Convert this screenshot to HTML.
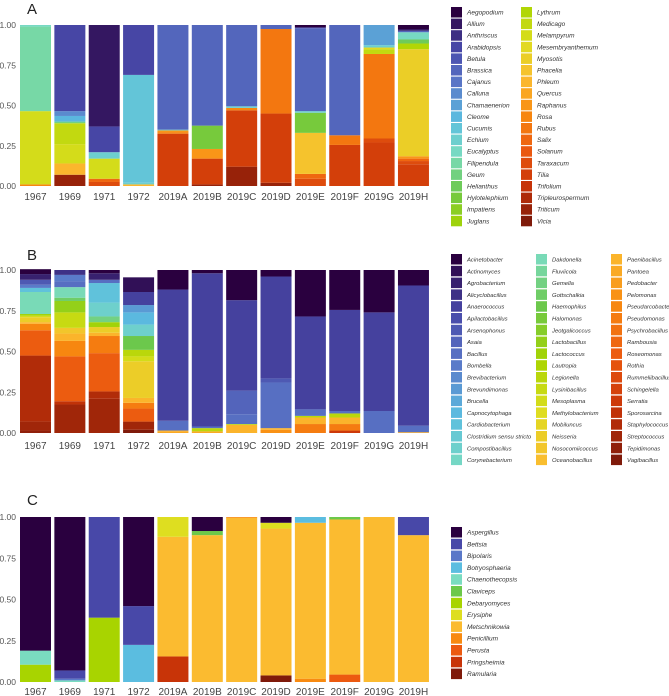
<!DOCTYPE html>
<html><head><meta charset="utf-8"><style>
body{margin:0;background:#fff;}
svg{display:block;font-family:"Liberation Sans",sans-serif;}
</style></head><body>
<svg id="fig" width="669" height="696" viewBox="0 0 669 696"></svg>
<script>
const years = ["1967","1969","1971","1972","2019A","2019B","2019C","2019D","2019E","2019F","2019G","2019H"];
const yTicks = [0,0.25,0.5,0.75,1];
const yTickLabels = ["0.00","0.25","0.50","0.75","1.00"];

const generaA = ["Aegopodium","Allium","Anthriscus","Arabidopsis","Betula","Brassica","Cajanus","Calluna","Chamaenerion","Cleome","Cucumis","Echium","Eucalyptus","Filipendula","Geum","Helianthus","Hylotelephium","Impatiens","Juglans","Lythrum","Medicago","Melampyrum","Mesembryanthemum","Myosotis","Phacelia","Phleum","Quercus","Raphanus","Rosa","Rubus","Salix","Solanum","Taraxacum","Tilia","Trifolium","Tripleurospermum","Triticum","Vicia"];
const generaB = ["Acinetobacter","Actinomyces","Agrobacterium","Alicyclobacillus","Anaerococcus","Apilactobacillus","Arsenophonus","Asaia","Bacillus","Bombella","Brevibacterium","Brevundimonas","Brucella","Capnocytophaga","Cardiobacterium","Clostridium sensu stricto","Compostibacillus","Corynebacterium","Dakdonella","Fluviicola","Gemella","Gottschalkia","Haemophilus","Halomonas","Jeotgalicoccus","Lactobacillus","Lactococcus","Lautropia","Legionella","Lysinibacillus","Mesoplasma","Methylobacterium","Mobiluncus","Neisseria","Nosocomiicoccus","Oceanobacillus","Paenibacillus","Pantoea","Pedobacter","Pelomonas","Pseudarcobacter","Pseudomonas","Psychrobacillus","Rambousia","Roseomonas","Rothia","Rummeliibacillus","Schingelella","Serratia","Sporosarcina","Staphylococcus","Streptococcus","Tepidimonas","Vagibacillus"];
const generaC = ["Aspergillus","Bettsia","Bipolaris","Botryosphaeria","Chaenothecopsis","Claviceps","Debaryomyces","Erysiphe","Metschnikowia","Penicillium","Perusta","Pringsheimia","Ramularia"];

const dataA = [
 [["Rosa",0.01],["Melampyrum",0.455],["Filipendula",0.525],["Eucalyptus",0.01]],
 [["Triticum",0.07],["Phleum",0.07],["Melampyrum",0.12],["Medicago",0.13],["Geum",0.01],["Cleome",0.035],["Calluna",0.03],["Arabidopsis",0.535]],
 [["Taraxacum",0.025],["Salix",0.02],["Melampyrum",0.125],["Echium",0.04],["Arabidopsis",0.16],["Allium",0.63]],
 [["Phleum",0.01],["Echium",0.01],["Cucumis",0.67],["Arabidopsis",0.31]],
 [["Tilia",0.325],["Rosa",0.01],["Raphanus",0.01],["Echium",0.005],["Brassica",0.65]],
 [["Triticum",0.01],["Tilia",0.16],["Raphanus",0.06],["Hylotelephium",0.145],["Brassica",0.625]],
 [["Triticum",0.12],["Tilia",0.35],["Rosa",0.015],["Echium",0.01],["Brassica",0.505]],
 [["Triticum",0.02],["Tilia",0.43],["Rubus",0.525],["Brassica",0.025]],
 [["Taraxacum",0.045],["Salix",0.03],["Phacelia",0.255],["Hylotelephium",0.125],["Echium",0.01],["Brassica",0.515],["Arabidopsis",0.005],["Aegopodium",0.015]],
 [["Tilia",0.255],["Rubus",0.06],["Brassica",0.685]],
 [["Tilia",0.27],["Taraxacum",0.025],["Rubus",0.525],["Medicago",0.03],["Mesembryanthemum",0.01],["Echium",0.015],["Chamaenerion",0.125]],
 [["Tilia",0.135],["Taraxacum",0.02],["Salix",0.015],["Raphanus",0.015],["Myosotis",0.665],["Lythrum",0.035],["Helianthus",0.025],["Eucalyptus",0.045],["Brassica",0.01],["Allium",0.01],["Aegopodium",0.025]]
];
const dataB = [
 [["Tepidimonas",0.015],["Streptococcus",0.055],["Staphylococcus",0.405],["Roseomonas",0.155],["Pseudarcobacter",0.04],["Paenibacillus",0.01],["Neisseria",0.03],["Mesoplasma",0.01],["Lactococcus",0.01],["Dakdonella",0.135],["Cardiobacterium",0.025],["Bombella",0.02],["Arsenophonus",0.03],["Agrobacterium",0.035],["Acinetobacter",0.03]],
 [["Streptococcus",0.175],["Sporosarcina",0.02],["Roseomonas",0.275],["Pseudarcobacter",0.095],["Paenibacillus",0.045],["Nosocomiicoccus",0.035],["Lysinibacillus",0.095],["Lactobacillus",0.07],["Gottschalkia",0.02],["Dakdonella",0.065],["Bacillus",0.035],["Bombella",0.04],["Alicyclobacillus",0.03]],
 [["Streptococcus",0.21],["Staphylococcus",0.045],["Roseomonas",0.235],["Pseudomonas",0.105],["Paenibacillus",0.02],["Neisseria",0.035],["Lactococcus",0.03],["Gemella",0.035],["Compostibacillus",0.085],["Cardiobacterium",0.12],["Bacillus",0.02],["Agrobacterium",0.04],["Acinetobacter",0.02]],
 [["Vagibacillus",0.02],["Streptococcus",0.05],["Roseomonas",0.08],["Pseudomonas",0.035],["Paenibacillus",0.03],["Neisseria",0.225],["Mesoplasma",0.03],["Legionella",0.04],["Haemophilus",0.085],["Compostibacillus",0.07],["Capnocytophaga",0.075],["Brevundimonas",0.045],["Anaerococcus",0.08],["Actinomyces",0.09]],
 [["Pantoea",0.01],["Paenibacillus",0.005],["Bacillus",0.06],["Anaerococcus",0.805],["Acinetobacter",0.12]],
 [["Pantoea",0.01],["Legionella",0.02],["Bacillus",0.01],["Anaerococcus",0.94],["Acinetobacter",0.02]],
 [["Paenibacillus",0.05],["Legionella",0.005],["Bacillus",0.06],["Asaia",0.145],["Anaerococcus",0.555],["Acinetobacter",0.185]],
 [["Pelomonas",0.02],["Paenibacillus",0.01],["Bacillus",0.28],["Arsenophonus",0.025],["Anaerococcus",0.625],["Acinetobacter",0.04]],
 [["Pseudomonas",0.055],["Paenibacillus",0.04],["Legionella",0.01],["Bacillus",0.04],["Anaerococcus",0.57],["Acinetobacter",0.285]],
 [["Serratia",0.015],["Pseudomonas",0.04],["Paenibacillus",0.04],["Legionella",0.025],["Bacillus",0.015],["Anaerococcus",0.62],["Acinetobacter",0.245]],
 [["Bacillus",0.135],["Anaerococcus",0.605],["Acinetobacter",0.26]],
 [["Pantoea",0.005],["Bacillus",0.04],["Anaerococcus",0.86],["Acinetobacter",0.095]]
];
const dataC = [
 [["Debaryomyces",0.105],["Chaenothecopsis",0.085],["Aspergillus",0.81]],
 [["Chaenothecopsis",0.01],["Bipolaris",0.01],["Bettsia",0.05],["Aspergillus",0.93]],
 [["Debaryomyces",0.39],["Bettsia",0.61]],
 [["Botryosphaeria",0.225],["Bettsia",0.235],["Aspergillus",0.54]],
 [["Pringsheimia",0.155],["Metschnikowia",0.725],["Erysiphe",0.12]],
 [["Metschnikowia",0.89],["Claviceps",0.025],["Aspergillus",0.085]],
 [["Metschnikowia",0.995],["Penicillium",0.005]],
 [["Ramularia",0.04],["Metschnikowia",0.89],["Erysiphe",0.035],["Aspergillus",0.035]],
 [["Penicillium",0.02],["Metschnikowia",0.945],["Botryosphaeria",0.035]],
 [["Perusta",0.045],["Metschnikowia",0.94],["Claviceps",0.015]],
 [["Metschnikowia",1.0]],
 [["Metschnikowia",0.89],["Bettsia",0.11]]
];

const anchors = ["#2a003f","#4848a8","#5a78c8","#5bbde0","#7adcc0","#6cc84a","#a8d400","#dede20","#fbbb30","#f88a10","#ec5a10","#c83408","#7f1a0a"];
function hex(c){return [1,3,5].map(i=>parseInt(c.substr(i,2),16));}
function palette(n){
  const out=[];
  for(let i=0;i<n;i++){
    const t=i/(n-1)*(anchors.length-1);
    const k=Math.min(Math.floor(t),anchors.length-2), f=t-k;
    const a=hex(anchors[k]), b=hex(anchors[k+1]);
    out.push("rgb("+a.map((v,j)=>Math.round(v+(b[j]-v)*f)).join(",")+")");
  }
  return out;
}
const NS="http://www.w3.org/2000/svg";
const svg=document.getElementById("fig");
function mk(tag,attrs,parent){const e=document.createElementNS(NS,tag);for(const k in attrs)e.setAttribute(k,attrs[k]);(parent||svg).appendChild(e);return e;}

function panel(letter, letterY, top, bottom, labelY, genera, data, legend){
  const cols=palette(genera.length);
  const g=mk("g",{});
  
  
  const t=mk("text",{x:27,y:letterY,"font-size":15,fill:"#222"},g);t.textContent=letter;
  
  
  const yS=v=>bottom-(bottom-top)*v;
  const xS=i=>20+i*34.36;
  yTicks.forEach((v,i)=>{
    const tx=mk("text",{x:16,y:yS(v)+3,"font-size":8.5,fill:"#555","text-anchor":"end"},g);
    tx.textContent=yTickLabels[i];
    
    
  });
  data.forEach((stack,i)=>{
    let acc=0;
    stack.forEach(([name,v])=>{
      const r=mk("rect",{x:xS(i),y:yS(acc+v),width:31,height:Math.max(0,yS(acc)-yS(acc+v)),fill:cols[genera.indexOf(name)]},g);
      
      
      acc+=v;
    });
    const xl=mk("text",{x:xS(i)+15.5,y:labelY,"font-size":10,fill:"#444","text-anchor":"middle"},g);
    xl.textContent=years[i];
    
    
  });
  const lg=mk("g",{},g);
  
  
  genera.forEach((name,i)=>{
    const c=Math.floor(i/legend.per), r=i%legend.per;
    const x=legend.xs[c], y=legend.y0+r*legend.step;
    const s=mk("rect",{x:x,y:y-5,width:11,height:10.5,fill:cols[i]},lg);
    
    
    const tx=mk("text",{x:x+16,y:y+2.5,"font-size":legend.fs,"font-style":"italic",fill:"#333"},lg);
    tx.textContent=name;
    
    
  });
}
panel("A",14,25,186,200,generaA,dataA,{xs:[451,521],per:19,y0:12,step:11.6,fs:6.5});
panel("B",260,270,433,449,generaB,dataB,{xs:[451,536,611],per:18,y0:259,step:11.8,fs:5.9});
panel("C",505,517,682,695,generaC,dataC,{xs:[451],per:13,y0:532,step:11.8,fs:6.5});
</script>
</body></html>
